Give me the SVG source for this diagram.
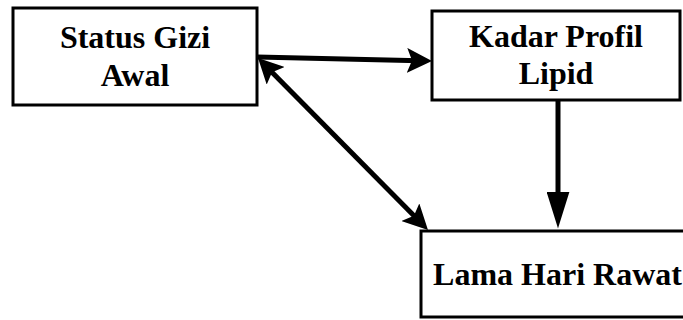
<svg xmlns="http://www.w3.org/2000/svg" width="683" height="320" viewBox="0 0 683 320">
  <style>
    .box { fill: #ffffff; stroke: #000000; stroke-width: 3; }
    .lbl { font-family: 'Liberation Serif', 'Times New Roman', serif; font-weight: bold; font-size: 32px; fill: #000000; text-anchor: middle; }
    .conn { stroke: #000000; stroke-width: 5; fill: none; }
  </style>
  <defs>
    <marker id="ah" viewBox="0 0 10 10" refX="5" refY="5" markerUnits="userSpaceOnUse" markerWidth="25" markerHeight="25" orient="auto-start-reverse">
      <path d="M0,0 L10,5 L0,10 L2,5 Z" fill="#000000"/>
    </marker>
    <marker id="ahlong" viewBox="0 0 10 10" refX="6.6" refY="5" markerUnits="userSpaceOnUse" markerWidth="37" markerHeight="23" preserveAspectRatio="none" orient="auto">
      <path d="M0,0 L10,5 L0,10 Z" fill="#000000"/>
    </marker>
  </defs>
  <rect width="683" height="320" fill="#ffffff"/>
  <g id="status-gizi">
    <rect class="box" x="13" y="8" width="244" height="97"/>
    <text class="lbl" x="135" y="48">Status Gizi</text>
    <text class="lbl" x="135" y="86">Awal</text>
  </g>
  <g id="kadar-profil">
    <rect class="box" x="432" y="11" width="248" height="89"/>
    <text class="lbl" x="556" y="47">Kadar Profil</text>
    <text class="lbl" x="556" y="84">Lipid</text>
  </g>
  <g id="lama-hari">
    <rect class="box" x="421" y="231" width="271" height="86"/>
    <text class="lbl" x="557.5" y="285">Lama Hari Rawat</text>
  </g>
  <g id="connectors">
    <line class="conn" x1="257" y1="57" x2="419.5" y2="60.7" marker-end="url(#ah)"/>
    <line class="conn" x1="266.8" y1="66.9" x2="419.2" y2="221.1" marker-start="url(#ah)" marker-end="url(#ah)"/>
    <line class="conn" x1="558" y1="100" x2="558" y2="216" marker-end="url(#ahlong)"/>
  </g>
</svg>
